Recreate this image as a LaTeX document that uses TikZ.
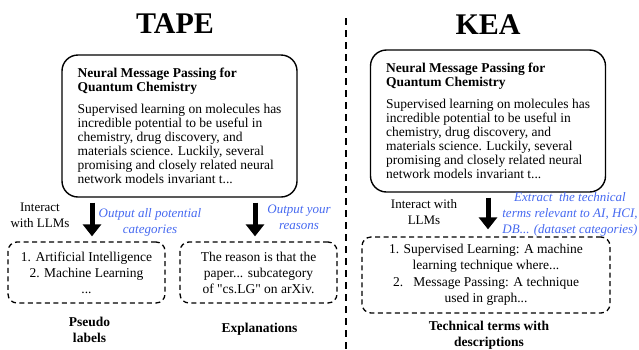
\documentclass[tikz,border=0pt]{standalone}
\usepackage{fontspec}
\setmainfont{Liberation Serif}[BoldFont={Liberation Serif Bold}, ItalicFont={Liberation Serif Italic}]
\usepackage{xcolor}
\usetikzlibrary{arrows.meta,positioning,calc}
\definecolor{llmblue}{RGB}{70,105,240}

\begin{document}
\begin{tikzpicture}[x=1pt, y=-1pt,
    paper/.style={rectangle, draw, line width=1.4pt, rounded corners=16pt, minimum width=235pt, minimum height=142pt, align=left, inner sep=0pt, font=\fontsize{13.5}{14}\selectfont},
    result/.style={rectangle, draw, dash pattern=on 5pt off 3.5pt, line width=1.3pt, rounded corners=9pt, align=center, inner sep=0pt, font=\fontsize{13.5}{16}\selectfont},
    plain/.style={align=center, inner sep=0pt, font=\fontsize{13}{16}\selectfont},
    prompt/.style={align=center, inner sep=0pt, text=llmblue, font=\fontsize{13}{16}\selectfont\itshape},
    caption/.style={align=center, inner sep=0pt, font=\fontsize{13.5}{16}\selectfont\bfseries},
    method/.style={inner sep=0pt, font=\fontsize{30}{30}\selectfont\bfseries},
    bigarrow/.style={line width=5pt, shorten <=5pt, shorten >=5pt, -{Triangle[length=12pt, width=18pt]}},
    divider/.style={line width=2.5pt, dash pattern=on 7pt off 5pt}]
    \useasboundingbox (0,0) rectangle (639,349);

    % TAPE side
    \node[method] (tapetitle) at (175,24) {TAPE};
    \node[paper] (tapepaper) at (179.5,126) {\textbf{Neural Message Passing for}\\
        \textbf{Quantum Chemistry}\\[8pt]
        Supervised learning on molecules has\\
        incredible potential to be useful in\\
        chemistry, drug discovery, and\\
        materials science. Luckily, several\\
        promising and closely related neural\\
        network models invariant t...};
    \node[result, minimum width=157pt, minimum height=61pt] (pseudo) at (86.5,272.5) {1. Artificial Intelligence\\ 2. Machine Learning\\ ...};
    \node[result, minimum width=157pt, minimum height=61pt] (expl) at (258.5,272.5) {The reason is that the\\ paper... subcategory\\ of \textquotedbl cs.LG\textquotedbl{} on arXiv.};
    \node[plain] (tapellm) at (40,215.5) {Interact\\ with LLMs};
    \node[prompt] (askcat) at (150,222) {Output all potential\\ categories};
    \node[prompt] (askwhy) at (299,217) {Output your\\ reasons};
    \node[caption] (pseudocap) at (89.5,329.5) {Pseudo\\ labels};
    \node[caption] (explcap) at (259.5,329) {Explanations};

    % KEA side
    \node[method] (keatitle) at (488,25) {KEA};
    \node[paper] (keapaper) at (488,121) {\textbf{Neural Message Passing for}\\
        \textbf{Quantum Chemistry}\\[8pt]
        Supervised learning on molecules has\\
        incredible potential to be useful in\\
        chemistry, drug discovery, and\\
        materials science. Luckily, several\\
        promising and closely related neural\\
        network models invariant t...};
    \node[result, minimum width=248pt, minimum height=76pt, font=\fontsize{13.5}{16.5}\selectfont] (terms) at (486,275) {1. Supervised Learning: A machine\\ learning technique where...\\ 2.\ \ \ Message Passing: A technique\\ used in graph...};
    \node[plain] (keallm) at (424,212) {Interact with\\ LLMs};
    \node[prompt] (askterms) at (570,214) {Extract\ \ the technical\\ terms relevant to AI, HCI,\\ DB... (dataset categories)};
    \node[caption] (termscap) at (489,335) {Technical terms with\\ descriptions};

    % Divider
    \coordinate (divtop) at (346,18);
    \coordinate (divbot) at (346,349);
    \draw[divider] (divtop) -- (divbot);

    % Arrows
    \coordinate (arrowA) at (92,0);
    \coordinate (arrowB) at (255,0);
    \coordinate (arrowC) at (488,0);
    \draw[bigarrow] (tapepaper.south -| arrowA) -- (pseudo.north -| arrowA);
    \draw[bigarrow] (tapepaper.south -| arrowB) -- (expl.north -| arrowB);
    \draw[bigarrow, shorten >=7pt] (keapaper.south -| arrowC) -- (terms.north -| arrowC);
\end{tikzpicture}
\end{document}
